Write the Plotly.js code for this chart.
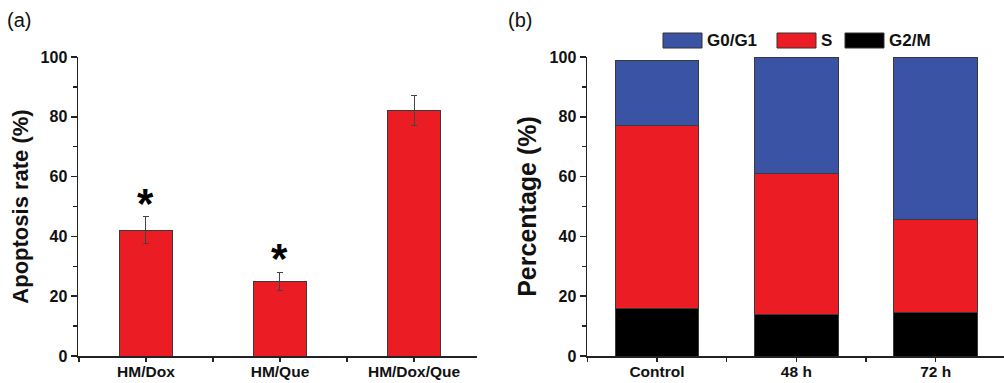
<!DOCTYPE html>
<html><head><meta charset="utf-8">
<script src="https://cdn.plot.ly/plotly-3.0.1.min.js"></script>
<style>html,body{margin:0;padding:0;background:#fff;}#plot{width:1004px;height:383px;}</style>
</head><body><div id="plot"></div>
<script>
// Panel (a)
const groupsA = ["HM/Dox", "HM/Que", "HM/Dox/Que"];
const apoptosis = [42, 25, 82];
const apoptosisErr = [4.5, 3, 5];
const significance = ["*", "*", ""];
// Panel (b)
const groupsB = ["Control", "48 h", "72 h"];
const g2m = [16, 14, 14.6];
const sPhase = [61, 47.1, 31.1];
const g0g1 = [21.7, 38.9, 54.3];
const seriesNames = ["G0/G1", "S", "G2/M"];
const yTicks = [0, 20, 40, 60, 80, 100];

const RED = "#EC1C24", BLUE = "#3A53A4", BLACK = "#000000";
const OUTLINE = {color: "#3a3a3a", width: 1};
const FONT = "Liberation Sans, Arial, sans-serif";

const idxA = groupsA.map((_, i) => i);
const idxB = groupsB.map((_, i) => i);

const traces = [
  {type: "bar", x: idxA, y: apoptosis, width: 0.4, xaxis: "x", yaxis: "y",
   marker: {color: RED, line: OUTLINE},
   error_y: {type: "data", array: apoptosisErr, visible: true, color: "#444", thickness: 1, width: 3},
   showlegend: false, hoverinfo: "x+y"},
  {type: "bar", x: idxB, y: g2m, name: seriesNames[2], width: 0.6, xaxis: "x2", yaxis: "y2",
   marker: {color: BLACK, line: OUTLINE}, showlegend: false},
  {type: "bar", x: idxB, y: sPhase, name: seriesNames[1], width: 0.6, xaxis: "x2", yaxis: "y2",
   marker: {color: RED, line: OUTLINE}, showlegend: false},
  {type: "bar", x: idxB, y: g0g1, name: seriesNames[0], width: 0.6, xaxis: "x2", yaxis: "y2",
   marker: {color: BLUE, line: OUTLINE}, showlegend: false}
];

const W = 1004, H = 383;
const px = v => v / W, py = v => (H - v) / H;

function yAxis(titleText, titleSize, anchor) {
  return {
    domain: [py(356), py(57)], range: [0, 100], anchor: anchor,
    tickvals: yTicks, ticktext: yTicks.map(String),
    ticks: "outside", ticklen: 6, tickwidth: 1.5, tickcolor: "#222",
    minor: {dtick: 10, ticks: "outside", ticklen: 3.5, tickwidth: 1.5, tickcolor: "#222"},
    showline: true, linecolor: "#222", linewidth: 1.5, showgrid: false, zeroline: false,
    tickfont: {family: FONT, size: 16, color: "#111", weight: "bold"},
    title: {text: titleText, font: {family: FONT, size: titleSize, color: "#111", weight: "bold"}, standoff: 6}
  };
}
function xAxis(domain, range, labels, anchor) {
  return {
    domain: domain, range: range, anchor: anchor,
    tickvals: labels.map((_, i) => i), ticktext: labels,
    ticks: "outside", ticklen: 4, tickwidth: 1.5, tickcolor: "#222",
    ticklabelstandoff: -3,
    minor: {dtick: 0.5, tick0: 0, ticks: "outside", ticklen: 4, tickwidth: 1.5, tickcolor: "#222"},
    showline: true, linecolor: "#222", linewidth: 1.5, showgrid: false, zeroline: false,
    tickfont: {family: FONT, size: 15.5, color: "#111", weight: "bold"}
  };
}

const annotations = [
  {text: "(a)", xref: "paper", yref: "paper", x: px(5), y: py(20), xanchor: "left", yanchor: "middle",
   showarrow: false, font: {family: FONT, size: 20, color: "#111"}},
  {text: "(b)", xref: "paper", yref: "paper", x: px(506), y: py(20), xanchor: "left", yanchor: "middle",
   showarrow: false, font: {family: FONT, size: 20, color: "#111"}}
];
significance.forEach((s, i) => {
  if (!s) return;
  annotations.push({text: s, xref: "x", yref: "y", x: idxA[i], y: apoptosis[i] + apoptosisErr[i],
    yanchor: "bottom", yshift: -12, showarrow: false,
    font: {family: FONT, size: 42, color: "#000", weight: "bold"}});
});

// Manual legend (paper coordinates)
const legendColors = [BLUE, RED, BLACK];
const legendX = [663, 777, 845];
const shapes = [];
seriesNames.forEach((n, i) => {
  shapes.push({type: "rect", xref: "paper", yref: "paper",
    x0: px(legendX[i]), x1: px(legendX[i] + 39), y0: py(48), y1: py(33),
    fillcolor: legendColors[i], line: {color: "#333", width: 1}});
  annotations.push({text: n, xref: "paper", yref: "paper", x: px(legendX[i] + 42), y: py(41),
    xanchor: "left", yanchor: "middle", showarrow: false,
    font: {family: FONT, size: 17, color: "#111", weight: "bold"}});
});

const layout = {
  width: W, height: H, margin: {l: 0, r: 0, t: 0, b: 0},
  paper_bgcolor: "#fff", plot_bgcolor: "#fff",
  barmode: "stack", showlegend: false,
  xaxis: xAxis([px(78), px(477)], [-0.507, 2.47], groupsA, "y"),
  yaxis: yAxis("Apoptosis rate (%)", 22, "x"),
  xaxis2: xAxis([px(587), 1], [-0.502, 2.49], groupsB, "y2"),
  yaxis2: yAxis("Percentage (%)", 25, "x2"),
  annotations: annotations, shapes: shapes
};

Plotly.newPlot("plot", traces, layout, {displayModeBar: false, staticPlot: true});
</script></body></html>
